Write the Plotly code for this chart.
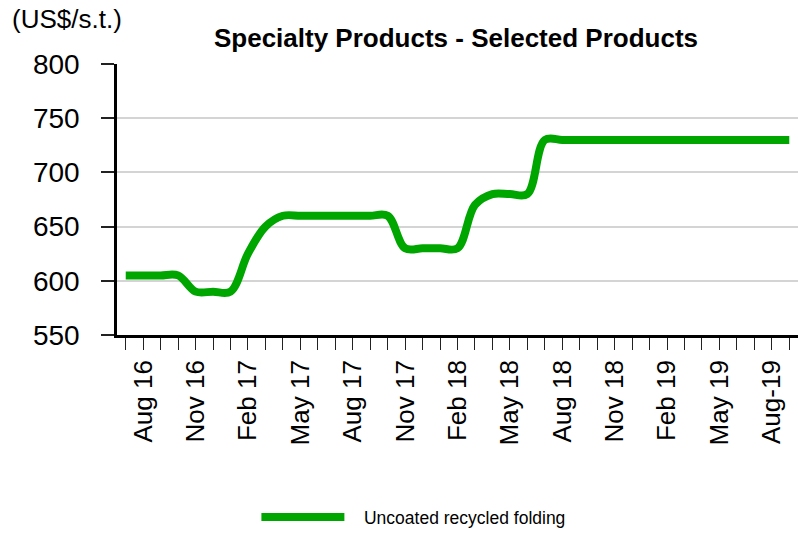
import plotly.graph_objects as go

# Monthly prices, Jul 2016 - Sep 2019 (US$/short ton)
months = [
    "Jul 16", "Aug 16", "Sep 16", "Oct 16", "Nov 16", "Dec 16",
    "Jan 17", "Feb 17", "Mar 17", "Apr 17", "May 17", "Jun 17",
    "Jul 17", "Aug 17", "Sep 17", "Oct 17", "Nov 17", "Dec 17",
    "Jan 18", "Feb 18", "Mar 18", "Apr 18", "May 18", "Jun 18",
    "Jul 18", "Aug 18", "Sep 18", "Oct 18", "Nov 18", "Dec 18",
    "Jan 19", "Feb 19", "Mar 19", "Apr 19", "May 19", "Jun 19",
    "Jul 19", "Aug 19", "Sep 19",
]
uncoated_recycled_folding = [
    605, 605, 605, 605, 590, 590,
    590, 625, 650, 660, 660, 660,
    660, 660, 660, 660, 630, 630,
    630, 630, 670, 680, 680, 680,
    730, 730, 730, 730, 730, 730,
    730, 730, 730, 730, 730, 730,
    730, 730, 730,
]
# Quarterly axis labels (blank for the other months)
tick_labels = [
    "", "Aug 16", "", "", "Nov 16", "", "", "Feb 17", "", "", "May 17", "", "",
    "Aug 17", "", "", "Nov 17", "", "", "Feb 18", "", "", "May 18", "", "",
    "Aug 18", "", "", "Nov 18", "", "", "Feb 19", "", "", "May 19", "", "",
    "Aug-19", "",
]
y_ticks = [550, 600, 650, 700, 750, 800]

x_idx = list(range(len(months)))

fig = go.Figure()
fig.add_trace(go.Scatter(
    x=x_idx,
    y=uncoated_recycled_folding,
    mode="lines",
    name="\u00a0\u00a0\u00a0Uncoated recycled folding",
    line=dict(color="#00a600", width=8, shape="spline", smoothing=1),
    text=months,
    hovertemplate="%{text}: %{y}<extra></extra>",
))

fig.update_layout(
    width=798,
    height=535,
    margin=dict(l=116.5, r=0, t=64, b=200),
    paper_bgcolor="white",
    plot_bgcolor="white",
    font=dict(family="Liberation Sans, Arial, sans-serif", color="black"),
    title=dict(
        text="<b>Specialty Products - Selected Products</b>",
        font=dict(size=26, family="Liberation Sans, Arial, sans-serif", color="black"),
        x=456 / 798, xanchor="center", xref="container",
        y=1 - 38 / 535, yanchor="middle", yref="container",
    ),
    showlegend=True,
    legend=dict(
        orientation="h",
        x=(256 - 116.5) / 681.5, xanchor="left",
        y=(335 - 517) / 271, yanchor="middle",
        font=dict(size=17.5, color="black"),
        itemwidth=83,
        bgcolor="rgba(0,0,0,0)",
    ),
    xaxis=dict(
        range=[-0.5, len(months) - 0.5],
        tickmode="array",
        tickvals=x_idx,
        ticktext=tick_labels,
        tickangle=-90,
        tickfont=dict(size=26),
        ticks="outside",
        ticklen=12,
        tickwidth=1.2,
        tickcolor="#222",
        showline=True,
        linecolor="black",
        linewidth=2.5,
        showgrid=False,
        zeroline=False,
        fixedrange=True,
    ),
    yaxis=dict(
        range=[550, 800],
        tickmode="array",
        tickvals=y_ticks,
        tickfont=dict(size=28),
        ticks="outside",
        ticklen=13,
        tickwidth=1.5,
        tickcolor="#222",
        ticklabelstandoff=16,
        showline=True,
        linecolor="black",
        linewidth=2.5,
        showgrid=True,
        gridcolor="#d4d4d4",
        gridwidth=1.5,
        zeroline=False,
        fixedrange=True,
    ),
    annotations=[
        dict(
            text="(US$/s.t.)",
            xref="paper", yref="paper",
            x=(9 - 116.5) / 681.5, xanchor="left",
            y=(335 - 19) / 271, yanchor="middle",
            showarrow=False,
            font=dict(size=26, color="black"),
        )
    ],
)

fig.write_html("out.html")
